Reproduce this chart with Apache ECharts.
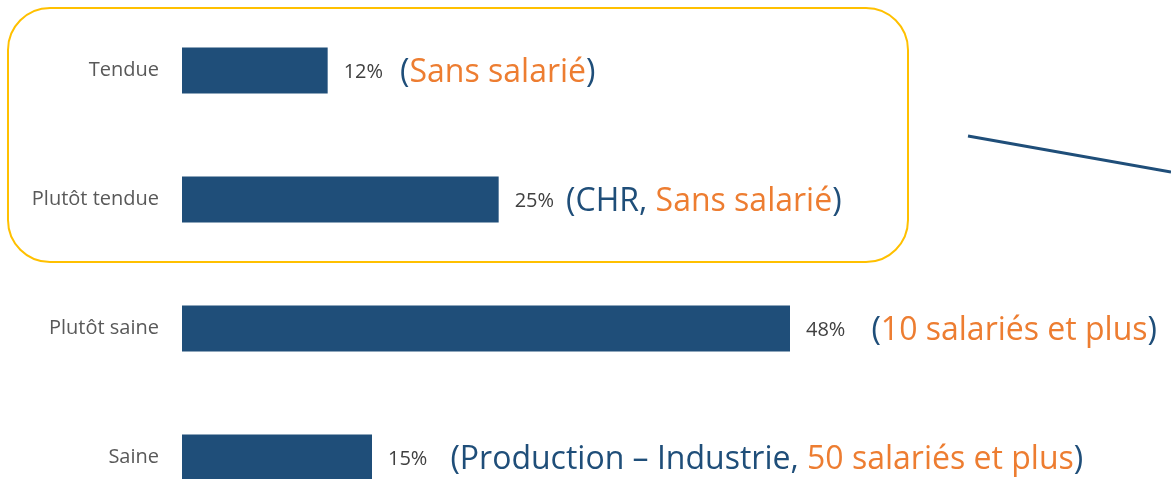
<!DOCTYPE html>
<html>
<head>
<meta charset="utf-8">
<script src="https://cdn.jsdelivr.net/npm/echarts@6/dist/echarts.min.js"></script>
<style>
  html, body { margin: 0; padding: 0; background: #fff; }
  #chart { width: 1171px; height: 479px; }
</style>
</head>
<body>
<div id="chart"></div>
<script>
// catégories (du haut vers le bas)
var categories = ['Tendue', 'Plutôt tendue', 'Plutôt saine', 'Saine'];
// part des répondants, en %
var values = [11.5, 25, 48, 15];
// commentaires : partie bleue, partie orange
var noteBlue = ['', 'CHR, ', '', 'Production – Industrie, '];
var noteOrange = ['Sans salarié', 'Sans salarié', '10 salariés et plus', '50 salariés et plus'];

var BLUE = '#1F4E79';
var ORANGE = '#ED7D31';
var FONT = 'Open Sans';
var noteGap = [17, 12, 26, 23];

var myChart = echarts.init(document.getElementById('chart'));

var option = {
    animation: false,
    grid: { left: 182, top: 6, width: 760, height: 516, outerBoundsMode: 'none', containLabel: false },
    xAxis: { type: 'value', min: 0, max: 60, show: false },
    yAxis: {
        type: 'category',
        inverse: true,
        data: categories,
        axisLine: { show: false },
        axisTick: { show: false },
        axisLabel: { color: '#595959', fontFamily: FONT, fontSize: 20, margin: 23, padding: [3, 0, 0, 0] }
    },
    series: [{
        type: 'bar',
        barWidth: 46,
        itemStyle: { color: BLUE },
        data: values.map(function (v, i) {
            return {
                value: v,
                label: {
                    show: true,
                    position: 'right',
                    distance: 16,
                    formatter: function () {
                        var s = '{v|' + Math.round(v) + '%}{p|(}';
                        if (noteBlue[i]) s += '{b|' + noteBlue[i] + '}';
                        return s + '{o|' + noteOrange[i] + '}{p|)}';
                    },
                    rich: {
                        v: { color: '#404040', fontFamily: FONT, fontSize: 20, padding: [3, noteGap[i], 0, 0] },
                        p: { color: BLUE, fontFamily: FONT, fontSize: 32, padding: [5, 0, 0, 0] },
                        b: { color: BLUE, fontFamily: FONT, fontSize: 32, padding: [5, 0, 0, 0] },
                        o: { color: ORANGE, fontFamily: FONT, fontSize: 32, padding: [5, 0, 0, 0] }
                    }
                }
            };
        })
    }],
    graphic: [
        {
            type: 'rect',
            shape: { x: 8, y: 8, width: 900, height: 254, r: 42 },
            style: { fill: 'none', stroke: '#FFC000', lineWidth: 2 },
            z: 100
        },
        {
            type: 'line',
            shape: { x1: 968, y1: 136, x2: 1171, y2: 172 },
            style: { stroke: BLUE, lineWidth: 3 },
            z: 100
        }
    ]
};

myChart.setOption(option);
</script>
</body>
</html>
